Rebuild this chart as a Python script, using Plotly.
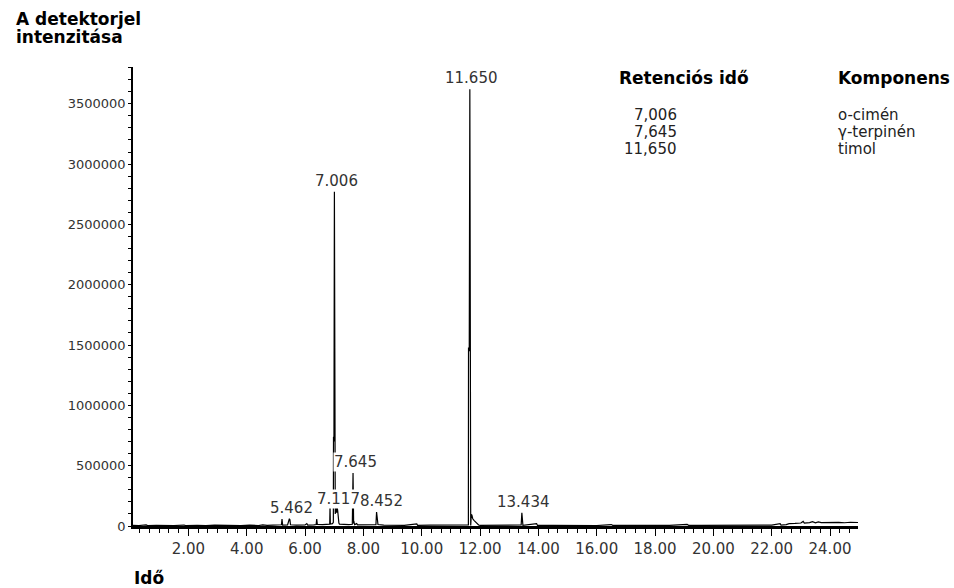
import plotly.graph_objects as go

# Chromatogram data (retention time in min, detector intensity)
times = [0.10, 0.30, 0.55, 0.60, 0.90, 1.20, 1.50, 1.85, 1.90, 2.30, 2.60, 2.90, 3.20, 3.50, 3.80,
         4.10, 4.40, 4.55, 4.70, 4.90, 5.10, 5.19, 5.21, 5.23, 5.40, 5.44, 5.462, 5.48, 5.50, 5.70,
         6.00, 6.06, 6.09, 6.30, 6.38, 6.40, 6.42, 6.60, 6.80, 6.845, 6.856, 6.867, 6.94, 6.97,
         6.975, 6.99, 7.006, 7.02, 7.025, 7.035, 7.045, 7.055, 7.065, 7.075, 7.085, 7.095, 7.105,
         7.117, 7.13, 7.14, 7.16, 7.18, 7.30,
         7.50, 7.62, 7.645, 7.665, 7.67, 7.70, 7.77, 7.80, 8.10, 8.43, 8.452, 8.47, 8.50, 8.70,
         9.00, 9.40, 9.83, 9.86, 10.30, 10.80, 11.30, 11.60, 11.605, 11.63, 11.65, 11.675, 11.68,
         11.70, 11.72, 11.75, 11.80, 11.85, 11.90, 11.95, 12.00, 12.40, 12.90, 13.41, 13.434,
         13.45, 13.47, 13.94, 13.97, 14.50, 15.00, 15.50, 16.00, 16.50, 16.55, 17.00, 17.50,
         18.00, 18.50, 19.10, 19.15, 19.60, 20.10, 20.60, 21.10, 21.60, 22.00, 22.29, 22.32,
         22.50, 22.60, 22.80, 23.00, 23.08, 23.12, 23.30, 23.40, 23.50, 23.60, 23.70, 23.90,
         24.10, 24.30, 24.50, 24.70, 24.96]
intensity = [6000, 4000, 9000, 3000, 5000, 2000, 4000, 8000, 3000, 6000, 3000, 7000, 4000, 6000, 3000,
             7000, 4000, 9000, 5000, 8000, 6000, 10000, 58000, 8000, 9000, 45000, 60000, 52000, 10000, 8000,
             9000, 20000, 8000, 10000, 12000, 58000, 14000, 12000, 14000, 15000, 166000, 16000, 20000, 30000,
             740000, 700000, 2770000, 740000, 166000, 100000, 166000, 110000, 166000, 120000, 160000, 110000, 150000,
             130000, 100000, 40000, 25000, 15000, 12000,
             12000, 14000, 440000, 20000, 40000, 12000, 20000, 10000, 9000, 12000, 116000, 40000, 12000, 8000,
             7000, 6000, 18000, 6000, 7000, 6000, 8000, 10000, 1480000, 1450000, 3620000, 1480000, 5000,
             95000, 90000, 60000, 45000, 30000, 15000, 8000, 5000, 6000, 5000, 8000, 110000,
             20000, 6000, 20000, 5000, 6000, 5000, 6000, 4000, 12000, 6000, 5000, 7000,
             6000, 5000, 14000, 6000, 5000, 6000, 5000, 7000, 6000, 8000, 20000, 8000,
             12000, 20000, 22000, 25000, 38000, 24000, 28000, 36000, 26000, 34000, 28000, 30000,
             28000, 30000, 27000, 31000, 29000]

# Peak labels
label_times = [5.462, 7.117, 8.452, 7.645, 7.006, 11.650, 13.434]
label_heights = [60000, 130000, 116000, 440000, 2770000, 3620000, 110000]
label_texts = ["5.462", "7.117", "8.452", "7.645", "7.006", "11.650", "13.434"]
label_dx = [2, 1, 5, 2, 2, 2, 2]

# Identification table
table_rt = ["7,006", "7,645", "11,650"]
table_comp = ["o-cimén", "γ-terpinén", "timol"]

W, H = 954, 588
L, R, T, B = 133, 96, 67, 62


def px(x):
    return (x - L) / (W - L - R)


def py(y):
    return (H - B - y) / (H - T - B)


fig = go.Figure(go.Scatter(x=times, y=intensity, mode="lines",
                           line=dict(color="black", width=1.2), hoverinfo="skip"))

ann = []
for t, h, s, dx in zip(label_times, label_heights, label_texts, label_dx):
    ann.append(dict(x=t, y=h, xref="x", yref="y", text=s, showarrow=False,
                    yanchor="middle", xanchor="center", yshift=11, xshift=dx,
                    bgcolor="white", borderpad=0,
                    font=dict(family="DejaVu Sans", size=15, color="#333333")))

bold = dict(family="DejaVu Sans", size=17, color="black", weight="bold")
reg = dict(family="DejaVu Sans", size=15, color="#222222")

ann.append(dict(x=px(14), y=py(18.5), xref="paper", yref="paper", text="<b>A detektorjel</b>",
                showarrow=False, xanchor="left", yanchor="middle", font=bold))
ann.append(dict(x=px(14), y=py(37), xref="paper", yref="paper", text="<b>intenzitása</b>",
                showarrow=False, xanchor="left", yanchor="middle", font=bold))
ann.append(dict(x=px(132), y=py(578), xref="paper", yref="paper", text="<b>Idő</b>",
                showarrow=False, xanchor="left", yanchor="middle", font=bold))
ann.append(dict(x=px(617), y=py(78), xref="paper", yref="paper", text="<b>Retenciós idő</b>",
                showarrow=False, xanchor="left", yanchor="middle", font=bold))
ann.append(dict(x=px(836), y=py(78), xref="paper", yref="paper", text="<b>Komponens</b>",
                showarrow=False, xanchor="left", yanchor="middle", font=bold))
for i, (rt, c) in enumerate(zip(table_rt, table_comp)):
    yy = 115 + i * 17
    ann.append(dict(x=px(679), y=py(yy), xref="paper", yref="paper", text=rt,
                    showarrow=False, xanchor="right", yanchor="middle", font=reg))
    ann.append(dict(x=px(836), y=py(yy), xref="paper", yref="paper", text=c,
                    showarrow=False, xanchor="left", yanchor="middle", font=reg))

fig.update_layout(
    width=W, height=H,
    margin=dict(l=L, r=R, t=T, b=B),
    paper_bgcolor="white", plot_bgcolor="white",
    showlegend=False,
    annotations=ann,
    xaxis=dict(range=[0.1, 24.96], showline=True, linecolor="black", linewidth=2.5,
               ticks="outside", ticklen=7, tickwidth=1, tickcolor="black",
               tick0=0, dtick=2, tickformat=".2f", showgrid=False, zeroline=False,
               tickfont=dict(family="DejaVu Sans", size=15, color="#333333"),
               minor=dict(dtick=1/3, tick0=0, ticks="outside", ticklen=4,
                          tickcolor="black", tickwidth=1, showgrid=False)),
    yaxis=dict(range=[0, 3805000], showline=True, linecolor="black", linewidth=1.5,
               ticks="outside", ticklen=3, tickwidth=1, tickcolor="black",
               tick0=0, dtick=500000, tickformat="d", showgrid=False, zeroline=False,
               tickfont=dict(family="DejaVu Sans", size=13, color="#333333"),
               minor=dict(dtick=100000, ticks="outside", ticklen=3,
                          tickcolor="black", tickwidth=1, showgrid=False)),
)

fig.write_html("out.html")
